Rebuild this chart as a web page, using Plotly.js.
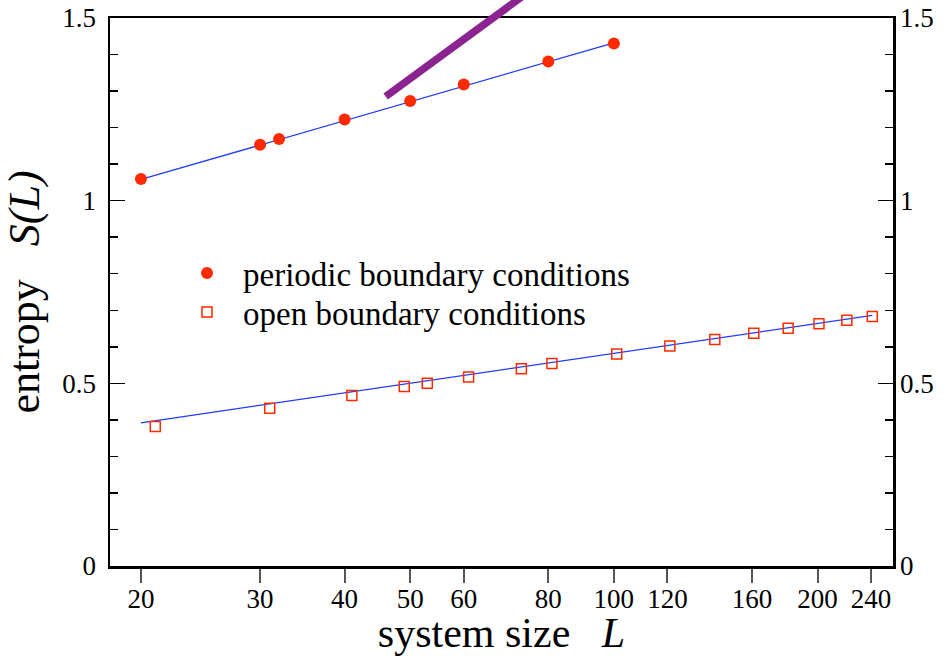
<!DOCTYPE html>
<html>
<head>
<meta charset="utf-8">
<script src="https://cdn.plot.ly/plotly-3.0.1.min.js"></script>
<style>html,body{margin:0;padding:0;background:#fff}#chart{width:948px;height:656px}</style>
</head>
<body>
<div id="chart"></div>
<script>
// ---- data ----
const periodicL = [20, 30, 32, 40, 50, 60, 80, 100];
const periodicS = [1.059, 1.153, 1.169, 1.222, 1.273, 1.318, 1.381, 1.430];
const periodicFitL = [20, 100];
const periodicFitS = [1.058, 1.432];

const openL = [21, 31, 41, 49, 53, 61, 73, 81, 101, 121, 141, 161, 181, 201, 221, 241];
const openS = [0.382, 0.432, 0.467, 0.491, 0.500, 0.517, 0.540, 0.554, 0.580, 0.602, 0.620, 0.637, 0.651, 0.663, 0.673, 0.683];
const openFitL = [20, 241];
const openFitS = [0.392, 0.686];

const guideL = [46, 80];
const guideS = [1.285, 1.611];

const xTickVals = [20, 30, 40, 50, 60, 80, 100, 120, 160, 200, 240];
const xTickText = ['20', '30', '40', '50', '60', '80', '100', '120', '160', '200', '240'];
const seriesNames = ['periodic boundary conditions', 'open boundary conditions'];

// ---- layout geometry ----
const W = 948, H = 656;
const mL = 110, mR = 55, mB = 90, frameTop = 18;
const plotH = H - mB;              // paper height (margin top 0)
const plotW = W - mL - mR;
const domTop = (plotH - frameTop) / plotH;
const yMax = 1.5;
const xRange = [Math.log10(18), Math.log10(258.6)];

const serif = 'Liberation Serif, Times New Roman, serif';
const red = '#ff2a00';
const blue = '#1f3dff';

const traces = [
  {x: periodicFitL, y: periodicFitS, mode: 'lines', line: {color: blue, width: 1.3}, showlegend: false, hoverinfo: 'skip'},
  {x: openFitL, y: openFitS, mode: 'lines', line: {color: blue, width: 1.3}, showlegend: false, hoverinfo: 'skip'},
  {x: periodicL, y: periodicS, mode: 'markers', name: seriesNames[0], legend: 'legend',
   marker: {symbol: 'circle', size: 12, color: red}},
  {x: openL, y: openS, mode: 'markers', name: seriesNames[1], legend: 'legend2',
   marker: {symbol: 'square-open', size: 10, color: red, line: {width: 1.5}}},
  {x: guideL, y: guideS, mode: 'lines', xaxis: 'x2', yaxis: 'y2', showlegend: false,
   line: {color: '#8b2390', width: 7.5}, hoverinfo: 'skip'},
  {x: [], y: [], yaxis: 'y3', showlegend: false, hoverinfo: 'skip', mode: 'markers'}
];

const legendCommon = {xanchor: 'left', yanchor: 'top', font: {size: 33, family: serif},
                      itemwidth: 62, bgcolor: 'rgba(0,0,0,0)'};

const layout = {
  width: W, height: H,
  margin: {l: mL, r: mR, t: 0, b: mB, pad: 0},
  paper_bgcolor: '#fff', plot_bgcolor: 'rgba(0,0,0,0)',
  font: {family: serif, color: '#000', size: 27},
  showlegend: true,
  legend: Object.assign({x: (171 - mL) / plotW, y: 1 - 245 / plotH}, legendCommon),
  legend2: Object.assign({x: (171 - mL) / plotW, y: 1 - 284 / plotH}, legendCommon),
  xaxis: {type: 'log', range: xRange, domain: [0, 1], anchor: 'y',
          tickmode: 'array', tickvals: xTickVals, ticktext: xTickText,
          ticks: 'outside', ticklen: 14, tickwidth: 2, tickcolor: '#555',
          tickfont: {size: 27, family: serif}, ticklabelstandoff: -7,
          showline: true, linewidth: 2.5, linecolor: '#000', mirror: true,
          showgrid: false, zeroline: false,
          title: {text: 'system size\u00a0\u00a0\u00a0<i>L</i>', font: {size: 42, family: serif}, standoff: 4}},
  yaxis: {range: [0, yMax], domain: [0, domTop], anchor: 'x',
          tickmode: 'linear', tick0: 0, dtick: 0.5,
          ticks: 'inside', ticklen: 15, tickwidth: 1.5, tickcolor: '#000',
          minor: {dtick: 0.1, ticks: 'inside', ticklen: 8, tickwidth: 1.5, tickcolor: '#000'},
          tickfont: {size: 27, family: serif}, ticklabelstandoff: 6,
          showline: true, linewidth: 2.5, linecolor: '#000', mirror: true,
          showgrid: false, zeroline: false,
          title: {text: 'entropy\u00a0\u00a0\u00a0<i>S(L)</i>', font: {size: 44, family: serif}, standoff: -2}},
  yaxis3: {range: [0, yMax], overlaying: 'y', side: 'right', anchor: 'x',
           tickmode: 'linear', tick0: 0, dtick: 0.5,
           ticks: 'inside', ticklen: 15, tickwidth: 1.5, tickcolor: '#000',
           minor: {dtick: 0.1, ticks: 'inside', ticklen: 8, tickwidth: 1.5, tickcolor: '#000'},
           tickfont: {size: 27, family: serif}, ticklabelstandoff: 6,
           showline: false, showgrid: false, zeroline: false},
  xaxis2: {type: 'log', range: xRange, domain: [0, 1], anchor: 'y2', visible: false},
  yaxis2: {range: [0, yMax / domTop], domain: [0, 1], anchor: 'x2', visible: false}
};

Plotly.newPlot('chart', traces, layout, {displayModeBar: false, staticPlot: true});
</script>
</body>
</html>
